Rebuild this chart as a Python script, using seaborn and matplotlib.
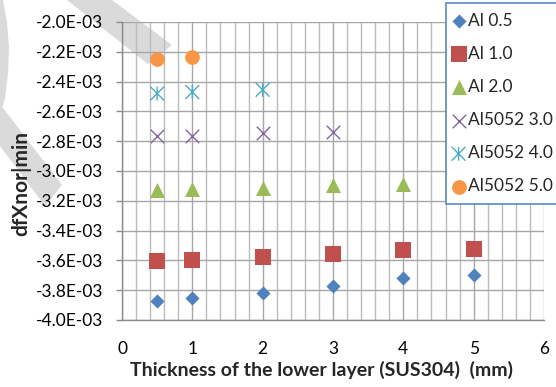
import matplotlib
matplotlib.use("Agg")
import matplotlib.pyplot as plt
import pandas as pd
import seaborn as sns
from matplotlib.path import Path
from matplotlib.patches import Polygon
from matplotlib.ticker import MultipleLocator, FuncFormatter

# ---- data -------------------------------------------------------------
series_labels = ["Al 0.5", "Al 1.0", "Al 2.0", "Al5052 3.0", "Al5052 4.0", "Al5052 5.0"]

x_al05 = [0.5, 1, 2, 3, 4, 5]
y_al05 = [-3.875e-3, -3.85e-3, -3.82e-3, -3.775e-3, -3.72e-3, -3.70e-3]

x_al10 = [0.5, 1, 2, 3, 4, 5]
y_al10 = [-3.607e-3, -3.597e-3, -3.58e-3, -3.556e-3, -3.527e-3, -3.522e-3]

x_al20 = [0.5, 1, 2, 3, 4]
y_al20 = [-3.128e-3, -3.12e-3, -3.115e-3, -3.096e-3, -3.086e-3]

x_a5052_30 = [0.5, 1, 2, 3]
y_a5052_30 = [-2.765e-3, -2.765e-3, -2.745e-3, -2.735e-3]

x_a5052_40 = [0.5, 1, 2]
y_a5052_40 = [-2.48e-3, -2.47e-3, -2.455e-3]

x_a5052_50 = [0.5, 1]
y_a5052_50 = [-2.247e-3, -2.237e-3]

x_label = "Thickness of the lower layer (SUS304)  (mm)"
y_label = "dfXnor|min"

# ---- style ------------------------------------------------------------
sns.set_style("white")
plt.rcParams["font.family"] = ["Lato", "DejaVu Sans"]
FS = 12.5

W, H = 556, 387
fig = plt.figure(figsize=(W / 100, H / 100), dpi=100)
fig.patch.set_facecolor("white")


def px(x, y):
    return (x / W, 1 - y / H)


# faint background watermark strokes
wm = "#dadada"
for pts in [
    [(67, 0), (112, 0), (172, 45), (148, 64)],
    [(0, 104), (62, 185), (45, 206), (0, 146)],
    [(0, 0), (3, 0), (7, 22), (9, 48), (8, 74), (5, 98), (0, 116)],
]:
    fig.add_artist(Polygon([px(*p) for p in pts], closed=True,
                           transform=fig.transFigure, facecolor=wm,
                           edgecolor="none", zorder=-1))

ax = fig.add_axes([122 / W, 1 - 320 / H, (544 - 122) / W, (320 - 22) / H])
ax.set_facecolor("none")

# asterisk marker: an X plus a vertical stroke
asterisk = Path(
    [(-0.5, -0.5), (0.5, 0.5), (-0.5, 0.5), (0.5, -0.5), (0, -0.5), (0, 0.5)],
    [Path.MOVETO, Path.LINETO, Path.MOVETO, Path.LINETO, Path.MOVETO, Path.LINETO],
)

series = [
    (x_al05, y_al05, "D", "#4F81BD", 52, True),
    (x_al10, y_al10, "s", "#C0504D", 118, True),
    (x_al20, y_al20, "^", "#9BBB59", 118, True),
    (x_a5052_30, y_a5052_30, "x", "#8064A2", 95, False),
    (x_a5052_40, y_a5052_40, asterisk, "#4BACC6", 100, False),
    (x_a5052_50, y_a5052_50, "o", "#F79646", 112, True),
]

for (xs, ys, mk, col, size, filled), lab in zip(series, series_labels):
    df = pd.DataFrame({"x": xs, "y": ys})
    if filled:
        sns.scatterplot(data=df, x="x", y="y", ax=ax, marker=mk, s=size,
                        color=col, edgecolor=col, linewidth=0, label=lab,
                        zorder=3, clip_on=False)
    elif mk == "x":
        sns.scatterplot(data=df, x="x", y="y", ax=ax, marker=mk, s=size,
                        color=col, linewidth=1.0, label=lab, zorder=3,
                        clip_on=False)
    else:
        sns.scatterplot(data=df, x="x", y="y", ax=ax, marker=mk, s=size,
                        facecolor="none", edgecolor=col, color=col,
                        linewidth=1.0, label=lab, zorder=3, clip_on=False)

# ---- axes -------------------------------------------------------------
ax.set_xlim(0, 6)
ax.set_ylim(-4.0e-3, -2.0e-3)
ax.xaxis.set_major_locator(MultipleLocator(1))
ax.xaxis.set_minor_locator(MultipleLocator(0.2))
ax.yaxis.set_major_locator(MultipleLocator(0.2e-3))
ax.yaxis.set_major_formatter(FuncFormatter(lambda v, p: "{:.1E}".format(v)))

ax.grid(True, which="major", axis="both", color="#a6a6a6", linewidth=1.0, zorder=1)
ax.grid(True, which="minor", axis="x", color="#bcbcbc", linewidth=1.0, zorder=1)
ax.set_axisbelow(True)

for side in ["top", "right"]:
    ax.spines[side].set_visible(False)
for side in ["left", "bottom"]:
    ax.spines[side].set_color("#8a8a8a")
    ax.spines[side].set_linewidth(1.0)

ax.tick_params(axis="y", which="major", direction="out", length=4.3, width=1.0,
               color="#8a8a8a", pad=9, labelsize=FS, labelcolor="black", left=True)
ax.tick_params(axis="x", which="major", direction="out", length=0, pad=15,
               labelsize=FS, labelcolor="black", bottom=True)
ax.tick_params(axis="x", which="minor", length=0)

ax.set_xlabel(x_label, fontsize=14.0, fontweight="bold")
ax.set_ylabel(y_label, fontsize=15, fontweight="bold")
ax.xaxis.set_label_coords((321 - 122) / 422, (320 - 361) / 298)
ax.yaxis.set_label_coords((31 - 122) / 422, (320 - 184) / 298)

leg = ax.legend(loc="upper left", bbox_to_anchor=px(446, 3),
                bbox_transform=fig.transFigure, borderaxespad=0,
                fontsize=FS, frameon=True, fancybox=False,
                borderpad=0.55, handlelength=0.35, handletextpad=0.35,
                labelspacing=0.99, markerscale=1.0)
leg.get_frame().set_edgecolor("#5b87c5")
leg.get_frame().set_linewidth(1.2)
leg.get_frame().set_alpha(1.0)
leg.set_zorder(10)

fig.savefig("out.png", dpi=100)
